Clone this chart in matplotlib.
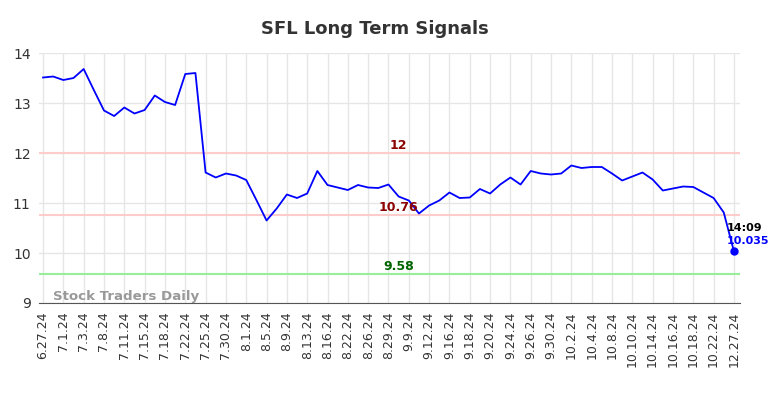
import numpy as np
import matplotlib
matplotlib.use('Agg')
import matplotlib.pyplot as plt

# ============================================================
# Data
# ============================================================
tick_labels = [
    '6.27.24', '7.1.24', '7.3.24', '7.8.24', '7.11.24', '7.15.24', '7.18.24',
    '7.22.24', '7.25.24', '7.30.24', '8.1.24', '8.5.24', '8.9.24', '8.13.24',
    '8.16.24', '8.22.24', '8.26.24', '8.29.24', '9.9.24', '9.12.24', '9.16.24',
    '9.18.24', '9.20.24', '9.24.24', '9.26.24', '9.30.24', '10.2.24', '10.4.24',
    '10.8.24', '10.10.24', '10.14.24', '10.16.24', '10.18.24', '10.22.24',
    '12.27.24',
]
prices = [
    13.51, 13.53, 13.46, 13.50, 13.68, 13.26, 12.85, 12.74, 12.91, 12.79,
    12.86, 13.15, 13.02, 12.96, 13.58, 13.60, 11.61, 11.51, 11.59, 11.55,
    11.46, 11.06, 10.65, 10.89, 11.17, 11.10, 11.19, 11.64, 11.36, 11.31,
    11.26, 11.36, 11.31, 11.30, 11.37, 11.13, 11.05, 10.79, 10.95, 11.05,
    11.21, 11.10, 11.11, 11.28, 11.19, 11.37, 11.51, 11.37, 11.64, 11.59,
    11.57, 11.59, 11.75, 11.70, 11.72, 11.72, 11.59, 11.45, 11.53, 11.61,
    11.47, 11.25, 11.29, 11.33, 11.32, 11.21, 11.10, 10.81, 10.035,
]
levels = [12.0, 10.76, 9.58]
level_labels = ['12', '10.76', '9.58']
last_time = '14:09'

# ============================================================
# Plot
# ============================================================
fig = plt.figure(figsize=(7.84, 3.98), dpi=100)
ax = fig.add_axes([0.0497, 0.2387, 0.8942, 0.6281])

x = np.arange(len(prices))
tick_pos = x[::2]

ax.set_xlim(-0.4, len(prices) - 1 + 0.6)
ax.set_ylim(9, 14)
ax.set_yticks([9, 10, 11, 12, 13, 14])
ax.set_xticks(tick_pos)
ax.set_xticklabels(tick_labels, rotation=90, fontsize=9, color='#333333')
ax.tick_params(axis='y', labelsize=10, colors='#333333')
ax.tick_params(length=0, pad=6)
ax.grid(True, color='#e6e6e6', linewidth=1)
ax.set_axisbelow(True)
for s in ['top', 'right', 'left']:
    ax.spines[s].set_visible(False)
ax.spines['bottom'].set_color('#555555')

# signal levels
ax.axhline(levels[0], color='#ffcccc', lw=1.5)
ax.axhline(levels[1], color='#ffcccc', lw=1.5)
ax.axhline(levels[2], color='#99ee99', lw=1.5)
mid = 35
ax.text(mid, levels[0] + 0.02, level_labels[0], color='#8b0000', fontsize=9,
        fontweight='bold', ha='center', va='bottom')
ax.text(mid, levels[1] + 0.02, level_labels[1], color='#8b0000', fontsize=9,
        fontweight='bold', ha='center', va='bottom')
ax.text(mid, levels[2] + 0.02, level_labels[2], color='#006400', fontsize=9,
        fontweight='bold', ha='center', va='bottom')

ax.plot(x, prices, color='#0000ff', lw=1.3)
ax.plot(x[-1], prices[-1], 'o', color='#0000ff', ms=5)
ax.text(x[-1] - 0.7, prices[-1] + 0.36, last_time, fontsize=8, fontweight='bold',
        color='black', ha='left', va='bottom')
ax.text(x[-1] - 0.7, prices[-1] + 0.10, f'{prices[-1]:.3f}', fontsize=8,
        fontweight='bold', color='#0000ff', ha='left', va='bottom')

ax.text(1, 9.0, 'Stock Traders Daily', fontsize=9.6, fontweight='bold',
        color='#999999', ha='left', va='bottom')

fig.suptitle('SFL Long Term Signals', x=0.478, y=0.95, fontsize=13,
             fontweight='bold', color='#333333')

fig.savefig('out.png', dpi=100)
